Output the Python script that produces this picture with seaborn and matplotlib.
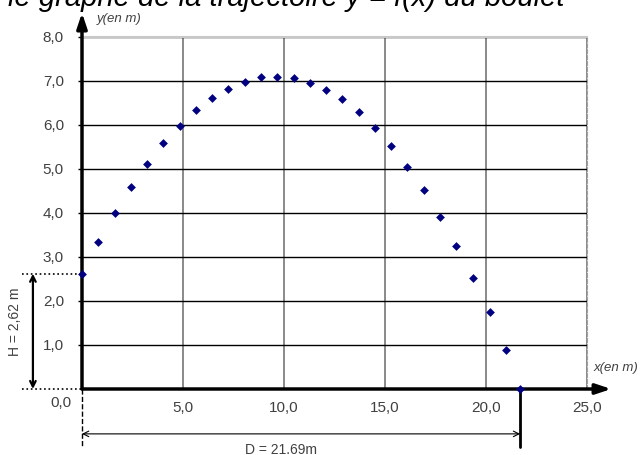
import seaborn as sns
import pandas as pd
from matplotlib import pyplot as plt

# positions du boulet
x_m = [0.00, 0.79, 1.64, 2.42, 3.21, 4.00, 4.83, 5.64, 6.44, 7.25, 8.06, 8.88, 9.67, 10.49,
       11.31, 12.10, 12.88, 13.73, 14.52, 15.31, 16.09, 16.94, 17.74, 18.53, 19.37, 20.18, 20.97, 21.69]
y_m = [2.62, 3.34, 4.00, 4.60, 5.11, 5.59, 5.98, 6.33, 6.61, 6.82, 6.98, 7.08, 7.10, 7.07,
       6.96, 6.80, 6.58, 6.30, 5.93, 5.52, 5.05, 4.52, 3.91, 3.25, 2.52, 1.74, 0.89, 0.00]
x_ticks = [5, 10, 15, 20, 25]
x_labels = ['5,0', '10,0', '15,0', '20,0', '25,0']
y_ticks = [1, 2, 3, 4, 5, 6, 7, 8]
y_labels = ['1,0', '2,0', '3,0', '4,0', '5,0', '6,0', '7,0', '8,0']
H = 2.62
D = 21.69

sns.set_style("white")
plt.rcParams['font.family'] = ['Liberation Sans', 'DejaVu Sans']

data = pd.DataFrame({'x': x_m, 'y': y_m})

fig = plt.figure(figsize=(6.44, 4.55), dpi=100)
ax = fig.add_axes([82/644, 1-389/455, 505/644, 352/455])

sns.scatterplot(x='x', y='y', data=data, ax=ax, marker='D', color='#000080',
                s=20, linewidth=0, clip_on=False, zorder=5)

ax.set_xlim(0, 25)
ax.set_ylim(0, 8)
ax.set_xticks(x_ticks)
ax.set_xticklabels(x_labels)
ax.set_yticks(y_ticks)
ax.set_yticklabels(y_labels)
ax.set_xlabel('')
ax.set_ylabel('')
ax.tick_params(axis='y', length=3, width=1, color='black', pad=10, labelsize=11, labelcolor='#404040', left=True)
ax.tick_params(axis='x', length=0, pad=9, labelsize=11, labelcolor='#404040')

ax.yaxis.grid(True, color='black', lw=1.0)
ax.xaxis.grid(True, color='#808080', lw=1.3)
ax.set_axisbelow(True)
ax.spines['left'].set_visible(False)
ax.spines['bottom'].set_visible(False)
ax.spines['top'].set_color('#c8c8c8')
ax.spines['top'].set_linewidth(1.5)
ax.spines['right'].set_color('#a0a0a0')
ax.spines['right'].set_linestyle('--')

# axes avec fleches
ax.annotate('', xy=(0, 8.55), xytext=(0, 0), annotation_clip=False,
            arrowprops=dict(arrowstyle='-|>,head_length=0.9,head_width=0.3', lw=2.5, color='black', shrinkA=0, shrinkB=0))
ax.annotate('', xy=(26.2, 0), xytext=(0, 0), annotation_clip=False,
            arrowprops=dict(arrowstyle='-|>,head_length=0.9,head_width=0.3', lw=2.5, color='black', shrinkA=0, shrinkB=0))
ax.text(0.75, 8.4, 'y(en m)', fontsize=9.5, style='italic', color='#404040', va='center')
ax.text(25.3, 0.48, 'x(en m)', fontsize=9.5, style='italic', color='#404040', va='center')
ax.text(-1.04, -0.32, '0,0', fontsize=11, color='#404040', ha='center', va='center')

# cote H
ax.plot([-2.97, 0], [H, H], ls=':', color='black', lw=1.2, clip_on=False)
ax.plot([-2.97, 0], [0, 0], ls=':', color='black', lw=1.2, clip_on=False)
ax.annotate('', xy=(-2.43, H), xytext=(-2.43, 0), annotation_clip=False,
            arrowprops=dict(arrowstyle='<->', lw=1.6, color='black', shrinkA=0, shrinkB=0))
ax.text(-3.32, 1.52, 'H = 2,62 m', rotation=90, fontsize=10, color='#404040', ha='center', va='center')

# cote D
ax.plot([0, 0], [0, -1.32], ls='--', color='black', lw=1, clip_on=False)
ax.plot([D, D], [0, -1.32], color='black', lw=2, clip_on=False)
ax.annotate('', xy=(D, -1.02), xytext=(0, -1.02), annotation_clip=False,
            arrowprops=dict(arrowstyle='<->', lw=0.8, color='black', shrinkA=0, shrinkB=0))
ax.text(9.85, -1.38, 'D = 21.69m', fontsize=10, color='#404040', ha='center', va='center')

# titre coupe en haut de l'image
fig.text(565/644, 1-6.5/455, 'le graphe de la trajectoire y = f(x) du boulet', fontsize=21,
         style='italic', ha='right', va='baseline', color='black')

fig.savefig('out.png', dpi=100)
